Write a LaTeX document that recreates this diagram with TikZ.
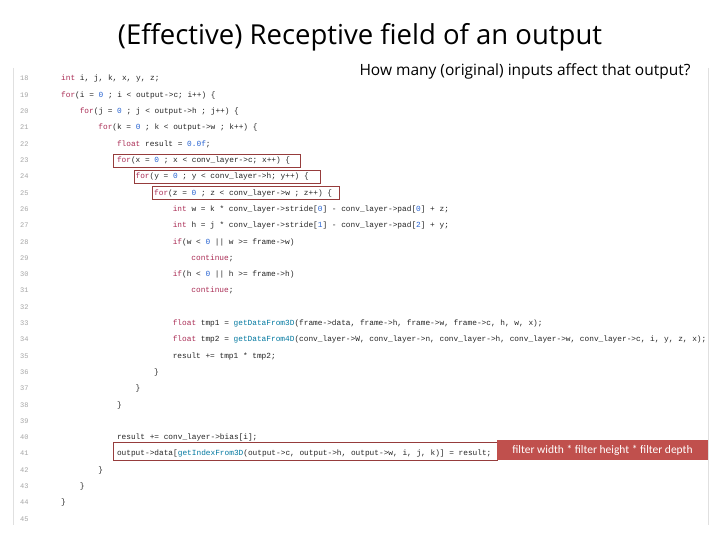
\documentclass[tikz,border=0pt]{standalone}
\usepackage{fontspec}
\setmainfont{Carlito}
\setmonofont{Liberation Mono}
\newfontfamily\titlefont{Open Sans}
\definecolor{kwc}{RGB}{170,45,85}
\definecolor{nmc}{RGB}{40,100,210}
\definecolor{fnc}{RGB}{0,120,160}
\definecolor{boxc}{RGB}{150,60,60}
\definecolor{redfill}{RGB}{192,80,77}
\newcommand{\kw}[1]{\textcolor{kwc}{#1}}
\newcommand{\nm}[1]{\textcolor{nmc}{#1}}
\newcommand{\fn}[1]{\textcolor{fnc}{#1}}
\begin{document}
\begin{tikzpicture}[x=1pt,y=-1pt,
  code/.style={anchor=base west,inner sep=0,font=\ttfamily\fontsize{7.8}{8}\selectfont,text=black!85},
  lnum/.style={anchor=base west,inner sep=0,font=\ttfamily\fontsize{7}{8}\selectfont,text=black!35},
  hl/.style={draw=boxc,line width=0.7pt}]
\useasboundingbox (0,0) rectangle (720,540);
\fill[white] (0,0) rectangle (720,540);
\draw[black!12,line width=1pt] (13,68) -- (13,525);
\draw[black!12,line width=1pt] (708,68) -- (708,525);
\node[font=\titlefont\fontsize{27.5}{32}\selectfont,anchor=base] (title) at (360,45) {(Effective) Receptive field of an output};
\node[font=\titlefont\fontsize{15.5}{18}\selectfont,anchor=base west] (sub) at (356,76) {How many (original) inputs affect that output?};
\foreach \n [count=\i from 0] in {18,...,45}
  \node[lnum] (n\n) at (20,{81+16.3*\i}) {\n};
\def\L#1#2#3{\node[code] (l#1) at ({61+18.6*#2},{81+16.3*(#1-18)}) {#3};}
\L{18}{0}{\kw{int} i, j, k, x, y, z;}
\L{19}{0}{\kw{for}(i = \nm{0} ; i < output->c; i++) \{}
\L{20}{1}{\kw{for}(j = \nm{0} ; j < output->h ; j++) \{}
\L{21}{2}{\kw{for}(k = \nm{0} ; k < output->w ; k++) \{}
\L{22}{3}{\kw{float} result = \nm{0.0f};}
\L{23}{3}{\kw{for}(x = \nm{0} ; x < conv\_layer->c; x++) \{}
\L{24}{4}{\kw{for}(y = \nm{0} ; y < conv\_layer->h; y++) \{}
\L{25}{5}{\kw{for}(z = \nm{0} ; z < conv\_layer->w ; z++) \{}
\L{26}{6}{\kw{int} w = k * conv\_layer->stride[\nm{0}] - conv\_layer->pad[\nm{0}] + z;}
\L{27}{6}{\kw{int} h = j * conv\_layer->stride[\nm{1}] - conv\_layer->pad[\nm{2}] + y;}
\L{28}{6}{\kw{if}(w < \nm{0} || w >= frame->w)}
\L{29}{7}{\kw{continue};}
\L{30}{6}{\kw{if}(h < \nm{0} || h >= frame->h)}
\L{31}{7}{\kw{continue};}
\L{33}{6}{\kw{float} tmp1 = \fn{getDataFrom3D}(frame->data, frame->h, frame->w, frame->c, h, w, x);}
\L{34}{6}{\kw{float} tmp2 = \fn{getDataFrom4D}(conv\_layer->W, conv\_layer->n, conv\_layer->h, conv\_layer->w, conv\_layer->c, i, y, z, x);}
\L{35}{6}{result += tmp1 * tmp2;}
\L{36}{5}{\}}
\L{37}{4}{\}}
\L{38}{3}{\}}
\L{40}{3}{result += conv\_layer->bias[i];}
\L{41}{3}{output->data[\fn{getIndexFrom3D}(output->c, output->h, output->w, i, j, k)] = result;}
\L{42}{2}{\}}
\L{43}{1}{\}}
\L{44}{0}{\}}
\draw[hl] (113,154) rectangle (300,167);
\draw[hl] (134,170) rectangle (320,183);
\draw[hl] (152,186) rectangle (339,199);
\draw[hl] (113,442) rectangle (497,460);
\node[fill=redfill,text=white,minimum width=211pt,minimum height=20pt,inner sep=0,
  font=\fontsize{11.5}{12}\selectfont] (note) at (602.5,450) {filter width * filter height * filter depth};
\end{tikzpicture}
\end{document}
